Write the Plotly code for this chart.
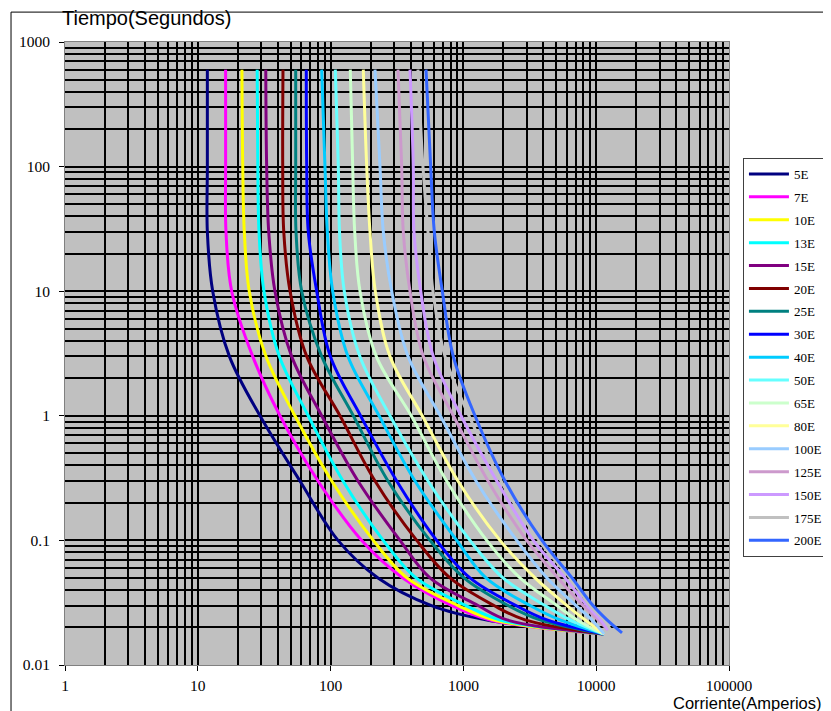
import plotly.graph_objects as go

# ---------------- data ----------------
series_names = ["5E", "7E", "10E", "13E", "15E", "20E", "25E", "30E", "40E",
                "50E", "65E", "80E", "100E", "125E", "150E", "175E", "200E"]
series_colors = ["#000080", "#FF00FF", "#FFFF00", "#00FFFF", "#800080", "#800000",
                 "#008080", "#0000FF", "#00CCFF", "#66FFFF", "#CCFFCC", "#FFFF99",
                 "#99CCFF", "#CC99CC", "#CC99FF", "#C0C0C0", "#3366FF"]

# time levels (s) at which current was read, plus a per-series end time
times_s = [600, 100, 30, 10, 3, 1, 0.3, 0.1, 0.05, 0.03, 0.023]
end_times_s = [0.0177, 0.0177, 0.0177, 0.0177, 0.0177, 0.0177, 0.0177, 0.0177,
               0.0177, 0.0177, 0.0177, 0.0177, 0.0177, 0.0191, 0.0191, 0.0183, 0.0181]

# current (A) for each series at times_s, last value at the end time
i_5E = [11.8, 11.8, 11.8, 12.95, 17.3, 29.4, 58.8, 113.7, 227.5, 575, 1505, 11450]
i_7E = [16.2, 16.2, 16.3, 18.0, 25.9, 41.6, 80.4, 171.5, 350, 821, 1586, 11450]
i_10E = [21.5, 21.8, 22.4, 24.4, 32.6, 53.9, 102, 209.7, 376, 910, 1700, 11450]
i_13E = [28.0, 28.3, 28.9, 31.5, 41.1, 67.9, 124, 249, 440, 1046, 1887, 11450]
i_15E = [32.5, 33.0, 34.2, 38.1, 50.9, 85.7, 160.8, 333, 560, 1288, 2130, 11450]
i_20E = [43.8, 43.6, 44.4, 49.5, 66.1, 117.7, 216, 445, 793, 1700, 2911, 11450]
i_25E = [54.6, 54.6, 54.9, 60.6, 85.7, 148.3, 270.5, 560, 1010, 2167, 3775, 11450]
i_30E = [65.6, 66.1, 67.9, 78.6, 99.5, 168, 314.6, 629, 1121, 2489, 4261, 11450]
i_40E = [85.7, 90.7, 94.5, 103.7, 135, 232, 432, 890, 1480, 3174, 5338, 11450]
i_50E = [108.5, 114.3, 116.7, 126.8, 166, 280, 541, 1121, 1987, 4117, 6348, 11450]
i_65E = [140.7, 146.7, 151.9, 166.5, 221, 405, 748, 1498, 2668, 5068, 7168, 11450]
i_80E = [176.3, 187, 198, 217.1, 280, 490, 910, 1887, 3461, 6027, 8236, 11450]
i_100E = [216, 235.5, 249.4, 288.5, 383, 670, 1244, 2520, 4261, 7046, 9297, 11450]
i_125E = [321.8, 343, 352.7, 396.2, 498.9, 840, 1532, 2997, 5155, 7955, 10318, 12270]
i_150E = [396.2, 419.5, 424.6, 477, 593, 960, 1782, 3360, 5823, 8525, 10870, 12270]
i_175E = [455, 496, 541, 590, 727, 1102, 1919, 3710, 6348, 8982, 11450, 13150]
i_200E = [523, 567, 604, 694, 839, 1223, 2057, 3907, 6574, 9461, 12060, 15640]

currents = [i_5E, i_7E, i_10E, i_13E, i_15E, i_20E, i_25E, i_30E, i_40E, i_50E,
            i_65E, i_80E, i_100E, i_125E, i_150E, i_175E, i_200E]

y_tick_vals = [0.01, 0.1, 1, 10, 100, 1000]
y_tick_text = ["0.01", "0.1", "1", "10", "100", "1000"]
x_tick_vals = [1, 10, 100, 1000, 10000, 100000]
x_tick_text = ["1", "10", "100", "1000", "10000", "100000"]

# ---------------- figure ----------------
fig = go.Figure()
for name, color, cur, tend in zip(series_names, series_colors, currents, end_times_s):
    fig.add_trace(go.Scatter(
        x=cur, y=times_s + [tend], mode="lines", name=name,
        legendgroup=name,
        line=dict(color=color, width=3, shape="spline", smoothing=1.0),
        hoverinfo="skip",
    ))

x_minor = [m * 10 ** e for e in range(0, 5) for m in range(2, 10)]
y_minor = [m * 10 ** e for e in range(-2, 3) for m in range(2, 10)]

grid_color = "#000000"
grid_w = 1.6
tick_font = dict(family="Liberation Serif", size=15.5, color="#000000")

fig.update_xaxes(
    type="log", range=[0, 5],
    tickmode="array", tickvals=x_tick_vals, ticktext=x_tick_text,
    ticks="outside", ticklen=5, tickcolor="#000000",
    showgrid=True, gridcolor=grid_color, gridwidth=grid_w,
    minor=dict(tickmode="array", tickvals=x_minor, showgrid=True,
               gridcolor=grid_color, gridwidth=grid_w, ticks=""),
    showline=True, linecolor="#808080", linewidth=1, mirror=True,
    zeroline=False, ticklabelstandoff=1,
    tickfont=tick_font,
)
fig.update_yaxes(
    type="log", range=[-2, 3],
    tickmode="array", tickvals=y_tick_vals, ticktext=y_tick_text,
    ticks="outside", ticklen=5, tickcolor="#000000",
    showgrid=True, gridcolor=grid_color, gridwidth=grid_w,
    minor=dict(tickmode="array", tickvals=y_minor, showgrid=True,
               gridcolor=grid_color, gridwidth=grid_w, ticks=""),
    showline=True, linecolor="#808080", linewidth=1, mirror=True,
    zeroline=False, ticklabelstandoff=6,
    tickfont=tick_font,
)

fig.update_layout(
    width=823, height=703,
    margin=dict(l=57, r=102, t=34, b=46, autoexpand=False),
    paper_bgcolor="#FFFFFF", plot_bgcolor="#C0C0C0",
    font=dict(family="Liberation Serif", size=12, color="#000000"),
    showlegend=True,
    legend=dict(
        x=1.021, y=0.8138, xanchor="left", yanchor="top",
        bgcolor="#FFFFFF", bordercolor="#404040", borderwidth=1,
        font=dict(family="Liberation Serif", size=13, color="#000000"),
        tracegroupgap=3, itemwidth=40, traceorder="grouped",
    ),
    annotations=[
        dict(text="Tiempo(Segundos)", xref="paper", yref="paper",
             x=-0.0075, y=1.0385, xanchor="left", yanchor="middle",
             showarrow=False,
             font=dict(family="Liberation Sans", size=20, color="#000000")),
        dict(text="Corriente(Amperios)", xref="paper", yref="paper",
             x=0.9127, y=-0.061, xanchor="left", yanchor="middle",
             showarrow=False,
             font=dict(family="Liberation Sans", size=16.5, color="#000000")),
    ],
    shapes=[
        dict(type="rect", xref="paper", yref="paper",
             x0=-0.0813, y0=-0.09, x1=1.2, y1=1.048,
             line=dict(color="#000000", width=1), fillcolor="rgba(0,0,0,0)",
             layer="below"),
    ],
)

fig.write_html("out.html")
